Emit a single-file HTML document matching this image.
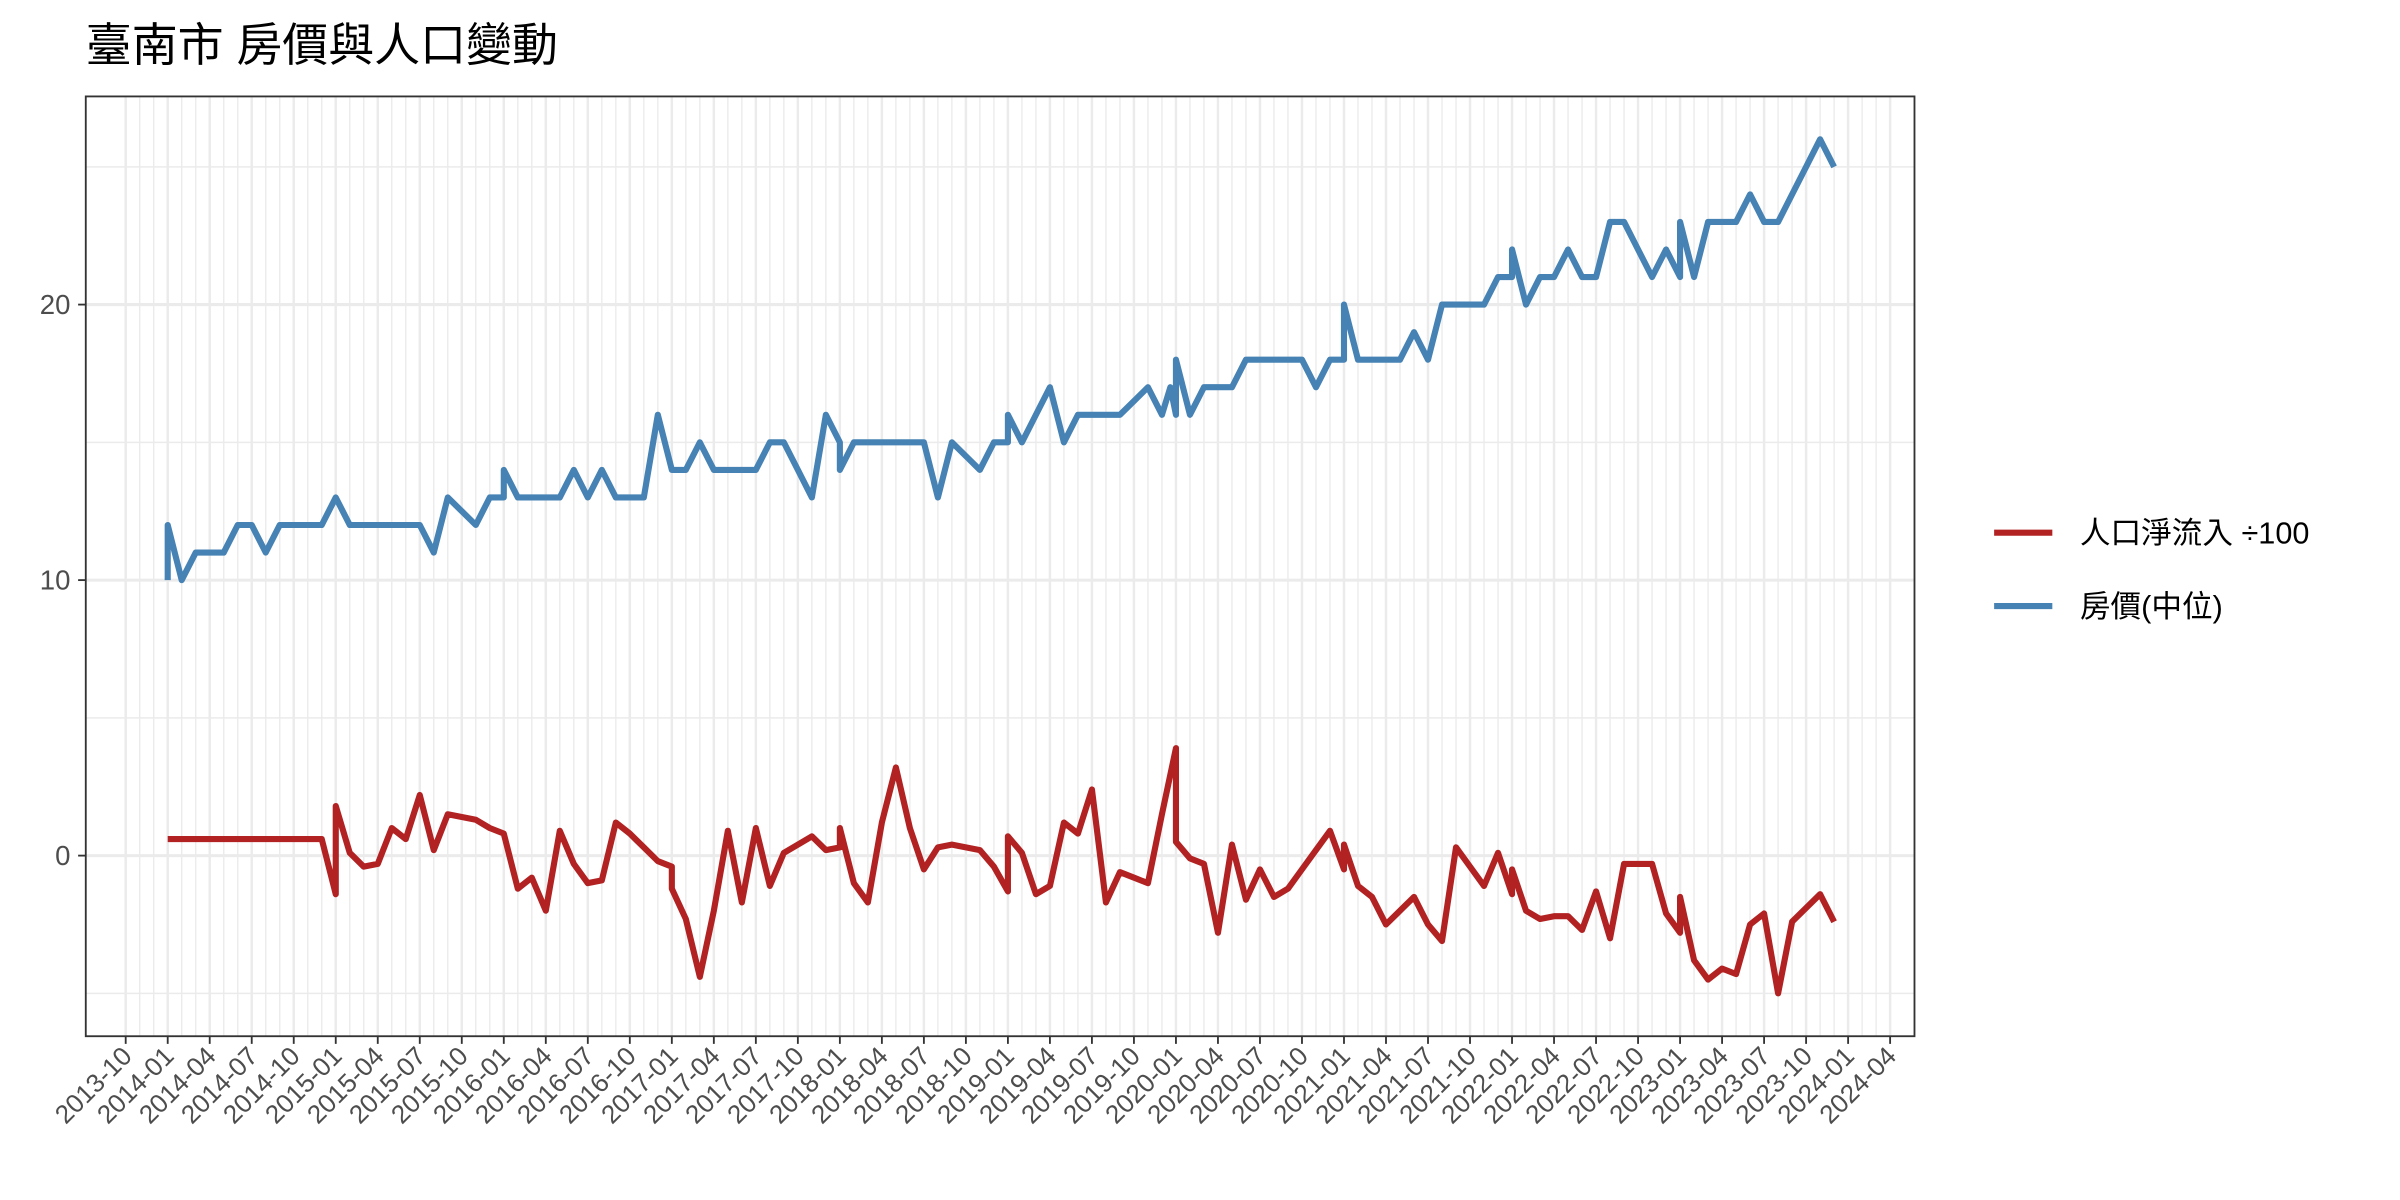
<!DOCTYPE html>
<html><head><meta charset="utf-8"><style>
html,body{margin:0;padding:0;background:#fff;}
svg{display:block;font-family:"Liberation Sans","Noto Sans CJK TC",sans-serif;}
</style></head><body>
<svg id="chart" width="2400" height="1200" viewBox="0 0 1567 784" preserveAspectRatio="none" xmlns="http://www.w3.org/2000/svg">
<text x="56" y="40" font-size="30" fill="#000">臺南市 房價與人口變動</text>
<rect x="56" y="63" width="1194" height="614" fill="#fff"/>
<g id="grid"></g>
<g id="series"></g>
<rect x="56" y="63" width="1194" height="614" fill="none" stroke="#333" stroke-width="1.2"/>
<g id="axes"></g>
<g>
<line x1="1302" y1="348" x2="1340" y2="348" stroke="#B22222" stroke-width="4"/>
<text x="1358" y="355" font-size="20">人口淨流入 ÷100</text>
<line x1="1302" y1="396" x2="1340" y2="396" stroke="#4682B4" stroke-width="4"/>
<text x="1358" y="403" font-size="20">房價(中位)</text>
</g>
</svg>
<script>
const priceMonths=[0,0,1,2,3,4,5,6,7,8,9,10,11,12,13,14,15,16,17,18,19,20,21,22,23,24,24,25,26,27,28,29,30,31,32,33,34,35,36,37,38,39,40,41,42,43,44,45,46,47,48,48,49,50,51,52,53,54,55,56,57,58,59,60,60,61,62,63,64,65,66,67,68,69,70,71,71.6,72,72,73,74,75,76,77,78,79,80,81,82,83,84,84,85,86,87,88,89,90,91,92,93,94,95,96,96,97,98,99,100,101,102,103,104,105,106,107,108,108,109,110,111,112,113,114,115,116,117,118,119];
const priceValues=[10,12,10,11,11,11,12,12,11,12,12,12,12,13,12,12,12,12,12,12,11,13,12.5,12,13,13,14,13,13,13,13,14,13,14,13,13,13,16,14,14,15,14,14,14,14,15,15,14,13,16,15,14,15,15,15,15,15,15,13,15,14.5,14,15,15,16,15,16,17,15,16,16,16,16,16.5,17,16,17,16,18,16,17,17,17,18,18,18,18,18,17,18,18,20,18,18,18,18,19,18,20,20,20,20,21,21,22,20,21,21,22,21,21,23,23,22,21,22,21,23,21,23,23,23,24,23,23,24,25,26,25];
const popMonths=[0,1,2,3,4,5,6,7,8,9,10,11,12,12,13,14,15,16,17,18,19,20,21,22,23,24,25,26,27,28,29,30,31,32,33,34,35,36,36,37,38,39,40,41,42,43,44,45,46,47,48,48,49,50,51,52,53,54,55,56,57,58,59,60,60,61,62,63,64,65,66,67,68,69,70,71,72,72,73,74,75,76,77,78,79,80,81,82,83,84,84,85,86,87,88,89,90,91,92,93,94,95,96,96,97,98,99,100,101,102,103,104,105,106,107,108,108,109,110,111,112,113,114,115,116,117,118,119];
const popValues=[0.6,0.6,0.6,0.6,0.6,0.6,0.6,0.6,0.6,0.6,0.6,0.6,-1.4,1.8,0.1,-0.4,-0.3,1.0,0.6,2.2,0.2,1.5,1.4,1.3,1.0,0.8,-1.2,-0.8,-2.0,0.9,-0.3,-1.0,-0.9,1.2,0.8,0.3,-0.2,-0.4,-1.2,-2.3,-4.4,-2.0,0.9,-1.7,1.0,-1.1,0.1,0.4,0.7,0.2,0.3,1.0,-1.0,-1.7,1.2,3.2,1.0,-0.5,0.3,0.4,0.3,0.2,-0.4,-1.3,0.7,0.1,-1.4,-1.1,1.2,0.8,2.4,-1.7,-0.6,-0.8,-1.0,1.5,3.9,0.5,-0.1,-0.3,-2.8,0.4,-1.6,-0.5,-1.5,-1.2,-0.5,0.2,0.9,-0.5,0.4,-1.1,-1.5,-2.5,-2.0,-1.5,-2.5,-3.1,0.3,-0.4,-1.1,0.1,-1.4,-0.5,-2.0,-2.3,-2.2,-2.2,-2.7,-1.3,-3.0,-0.3,-0.3,-0.3,-2.1,-2.8,-1.5,-3.8,-4.5,-4.1,-4.3,-2.5,-2.1,-5.0,-2.4,-1.9,-1.4,-2.4];
const yTicks=[0,10,20];
const yMinor=[-5,5,15,25];
const xTickLabels=["2013-10","2014-01","2014-04","2014-07","2014-10","2015-01","2015-04","2015-07","2015-10","2016-01","2016-04","2016-07","2016-10","2017-01","2017-04","2017-07","2017-10","2018-01","2018-04","2018-07","2018-10","2019-01","2019-04","2019-07","2019-10","2020-01","2020-04","2020-07","2020-10","2021-01","2021-04","2021-07","2021-10","2022-01","2022-04","2022-07","2022-10","2023-01","2023-04","2023-07","2023-10","2024-01","2024-04"];

const NS="http://www.w3.org/2000/svg";
const X=m=>109.5+m*9.143;
const Y=v=>559-v*18;
function mk(tag,attrs,parent){const e=document.createElementNS(NS,tag);for(const k in attrs)e.setAttribute(k,attrs[k]);parent.appendChild(e);return e;}
const grid=document.getElementById('grid'),axes=document.getElementById('axes'),series=document.getElementById('series');
for(let m=-3;m<=123;m++){
  const x=X(m); if(x<57||x>1249)continue;
  const l=mk('line',{x1:x,x2:x,y1:63,y2:677,stroke:'#ebebeb','stroke-width':(m%3===0)?1.6:0.9},grid);
  
  
}
yMinor.forEach(v=>{const l=mk('line',{x1:56,x2:1250,y1:Y(v),y2:Y(v),stroke:'#ebebeb','stroke-width':1},grid);
  
  });
yTicks.forEach(v=>{const l=mk('line',{x1:56,x2:1250,y1:Y(v),y2:Y(v),stroke:'#ebebeb','stroke-width':2},grid);
  
  
  const t=mk('line',{x1:51,x2:56,y1:Y(v),y2:Y(v),stroke:'#333','stroke-width':1.2},axes);
  
  
  const tx=mk('text',{x:46,y:Y(v)+6,'text-anchor':'end','font-size':18,fill:'#4d4d4d'},axes);tx.textContent=v;
  
  });
xTickLabels.forEach((s,i)=>{const x=X(-3+i*3);
  const t=mk('line',{x1:x,x2:x,y1:677,y2:682,stroke:'#333','stroke-width':1.2},axes);
  
  
  const tx=mk('text',{x:x+5,y:691,'text-anchor':'end','font-size':17,fill:'#4d4d4d',transform:`rotate(-45 ${x+5} 691)`},axes);tx.textContent=s;
  
  });
function line(ms,vs,color,name){
  const d=ms.map((m,i)=>(i?'L':'M')+X(m).toFixed(2)+','+Y(vs[i]).toFixed(2)).join(' ');
  const p=mk('path',{d:d,fill:'none',stroke:color,'stroke-width':4,'stroke-linejoin':'round'},series);
  
  
}
line(popMonths,popValues,'#B22222','population-line');
line(priceMonths,priceValues,'#4682B4','price-line');
</script>
</body></html>
